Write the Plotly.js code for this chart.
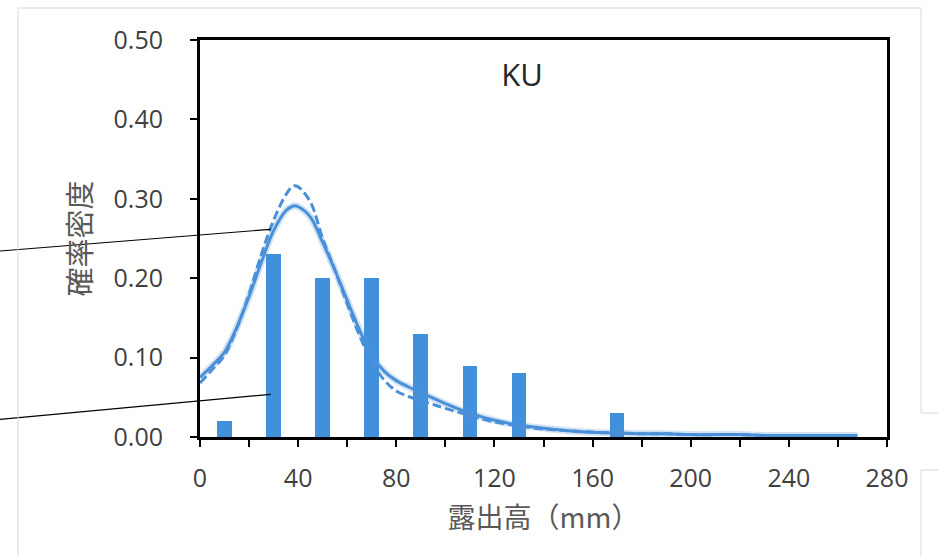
<!DOCTYPE html>
<html>
<head>
<meta charset="utf-8">
<script src="https://cdn.plot.ly/plotly-3.0.1.min.js"></script>
<style>html,body{margin:0;padding:0;background:#fff;}#chart{width:938px;height:556px;}</style>
</head>
<body>
<div id="chart"></div>
<script>
// Histogram (probability per 20 mm bin)
const binCenters = [10, 30, 50, 70, 90, 110, 130, 150, 170, 190, 210, 230, 250, 270];
const binProb    = [0.02, 0.23, 0.20, 0.20, 0.13, 0.09, 0.08, 0.00, 0.03, 0.00, 0.00, 0.00, 0.00, 0.00];

// Fitted density curves
const curveX = [0, 5, 10, 15, 20, 25, 30, 35, 38, 40, 45, 50, 55, 60, 65, 70, 75, 80, 85, 90, 95, 100,
                110, 120, 130, 140, 150, 160, 170, 180, 190, 200, 210, 220, 230, 240, 250, 260, 268];
const solidY = [0.075, 0.090, 0.107, 0.138, 0.177, 0.220, 0.260, 0.285, 0.291, 0.290, 0.277, 0.245, 0.210, 0.172, 0.135, 0.103, 0.083, 0.071, 0.063, 0.056, 0.049, 0.042,
                0.030, 0.021, 0.015, 0.011, 0.008, 0.006, 0.005, 0.004, 0.004, 0.003, 0.003, 0.003, 0.002, 0.002, 0.002, 0.002, 0.002];
const dashY  = [0.068, 0.085, 0.103, 0.137, 0.180, 0.230, 0.273, 0.305, 0.316, 0.315, 0.296, 0.250, 0.210, 0.168, 0.128, 0.095, 0.072, 0.058, 0.051, 0.046, 0.041, 0.036,
                0.027, 0.019, 0.014, 0.010, 0.008, 0.006, 0.005, 0.004, 0.004, 0.003, 0.003, 0.003, 0.002, 0.002, 0.002, 0.002, 0.002];

const yTicks = [0, 0.1, 0.2, 0.3, 0.4, 0.5];
const xTicks = [0, 40, 80, 120, 160, 200, 240, 280];

const blue = '#4190dc';
const lineBlue = '#4a90d9';
const tickFont = {family: 'Open Sans, Noto Sans, sans-serif', size: 25, color: '#404040'};
const cjk = 'Noto Sans CJK JP, Noto Sans, sans-serif';

const traces = [
  {type: 'bar', x: binCenters, y: binProb, width: 6, marker: {color: blue}, hoverinfo: 'x+y'},
  {type: 'scatter', mode: 'lines', x: curveX, y: solidY, line: {color: 'rgba(74,144,217,0.25)', width: 7, shape: 'spline'}, hoverinfo: 'skip'},
  {type: 'scatter', mode: 'lines', x: curveX, y: solidY, line: {color: lineBlue, width: 3, shape: 'spline'}},
  {type: 'scatter', mode: 'lines', x: curveX, y: dashY, line: {color: lineBlue, width: 3, shape: 'spline', dash: '9px,4px'}}
];

// paper-coordinate helpers for decorations outside the plot
const L = 200, R = 887, T = 40, B = 437;
const px = v => (v - L) / (R - L);
const py = v => (B - v) / (B - T);

const frame = {color: '#d9d9d9', width: 1};
const layout = {
  width: 938, height: 556,
  margin: {l: L, r: 938 - R, t: T, b: 556 - B},
  paper_bgcolor: '#ffffff', plot_bgcolor: '#ffffff',
  showlegend: false,
  bargap: 0,
  title: {text: 'KU', font: {family: 'Open Sans, sans-serif', size: 31, color: '#262626'},
          xref: 'paper', yref: 'paper', x: px(522), y: py(75), xanchor: 'center', yanchor: 'middle'},
  xaxis: {
    range: [0, 280], tickvals: xTicks, ticktext: xTicks.map(String),
    ticks: 'outside', ticklen: 7, tickwidth: 2, tickcolor: '#000',
    minor: {dtick: 20, tick0: 0, ticks: 'outside', ticklen: 7, tickwidth: 2, tickcolor: '#000'},
    showline: true, linecolor: '#000', linewidth: 3, mirror: true,
    showgrid: false, zeroline: false,
    tickfont: tickFont, ticklabelstandoff: 10,
    title: {text: '露出高（mm）\u2002', font: {family: cjk, size: 28, color: '#595959'}, standoff: 16}
  },
  yaxis: {
    range: [0, 0.5], tickvals: yTicks, ticktext: yTicks.map(v => v.toFixed(2)),
    ticks: 'outside', ticklen: 7, tickwidth: 2, tickcolor: '#000',
    showline: true, linecolor: '#000', linewidth: 3, mirror: true,
    showgrid: false, zeroline: false,
    tickfont: tickFont, ticklabelstandoff: 22,
    title: {text: '確率密度\u3000', font: {family: cjk, size: 29, color: '#595959'}, standoff: 14}
  },
  shapes: [
    {type: 'line', xref: 'paper', yref: 'paper', x0: px(0), y0: py(251), x1: px(270.7), y1: py(229.3), line: {color: '#000', width: 1.2}},
    {type: 'line', xref: 'paper', yref: 'paper', x0: px(0), y0: py(419.3), x1: px(270.7), y1: py(394.3), line: {color: '#000', width: 1.2}},
    {type: 'line', xref: 'paper', yref: 'paper', x0: px(18), y0: py(8), x1: px(921), y1: py(8), line: frame},
    {type: 'line', xref: 'paper', yref: 'paper', x0: px(18), y0: py(8), x1: px(18), y1: py(556), line: frame},
    {type: 'path', xref: 'paper', yref: 'paper',
     path: `M ${px(921)} ${py(8)} L ${px(921)} ${py(413)} L ${px(938)} ${py(413)} M ${px(938)} ${py(470)} L ${px(921)} ${py(470)} L ${px(921)} ${py(556)}`,
     line: frame}
  ]
};

Plotly.newPlot('chart', traces, layout, {displayModeBar: false, staticPlot: true});
</script>
</body>
</html>
